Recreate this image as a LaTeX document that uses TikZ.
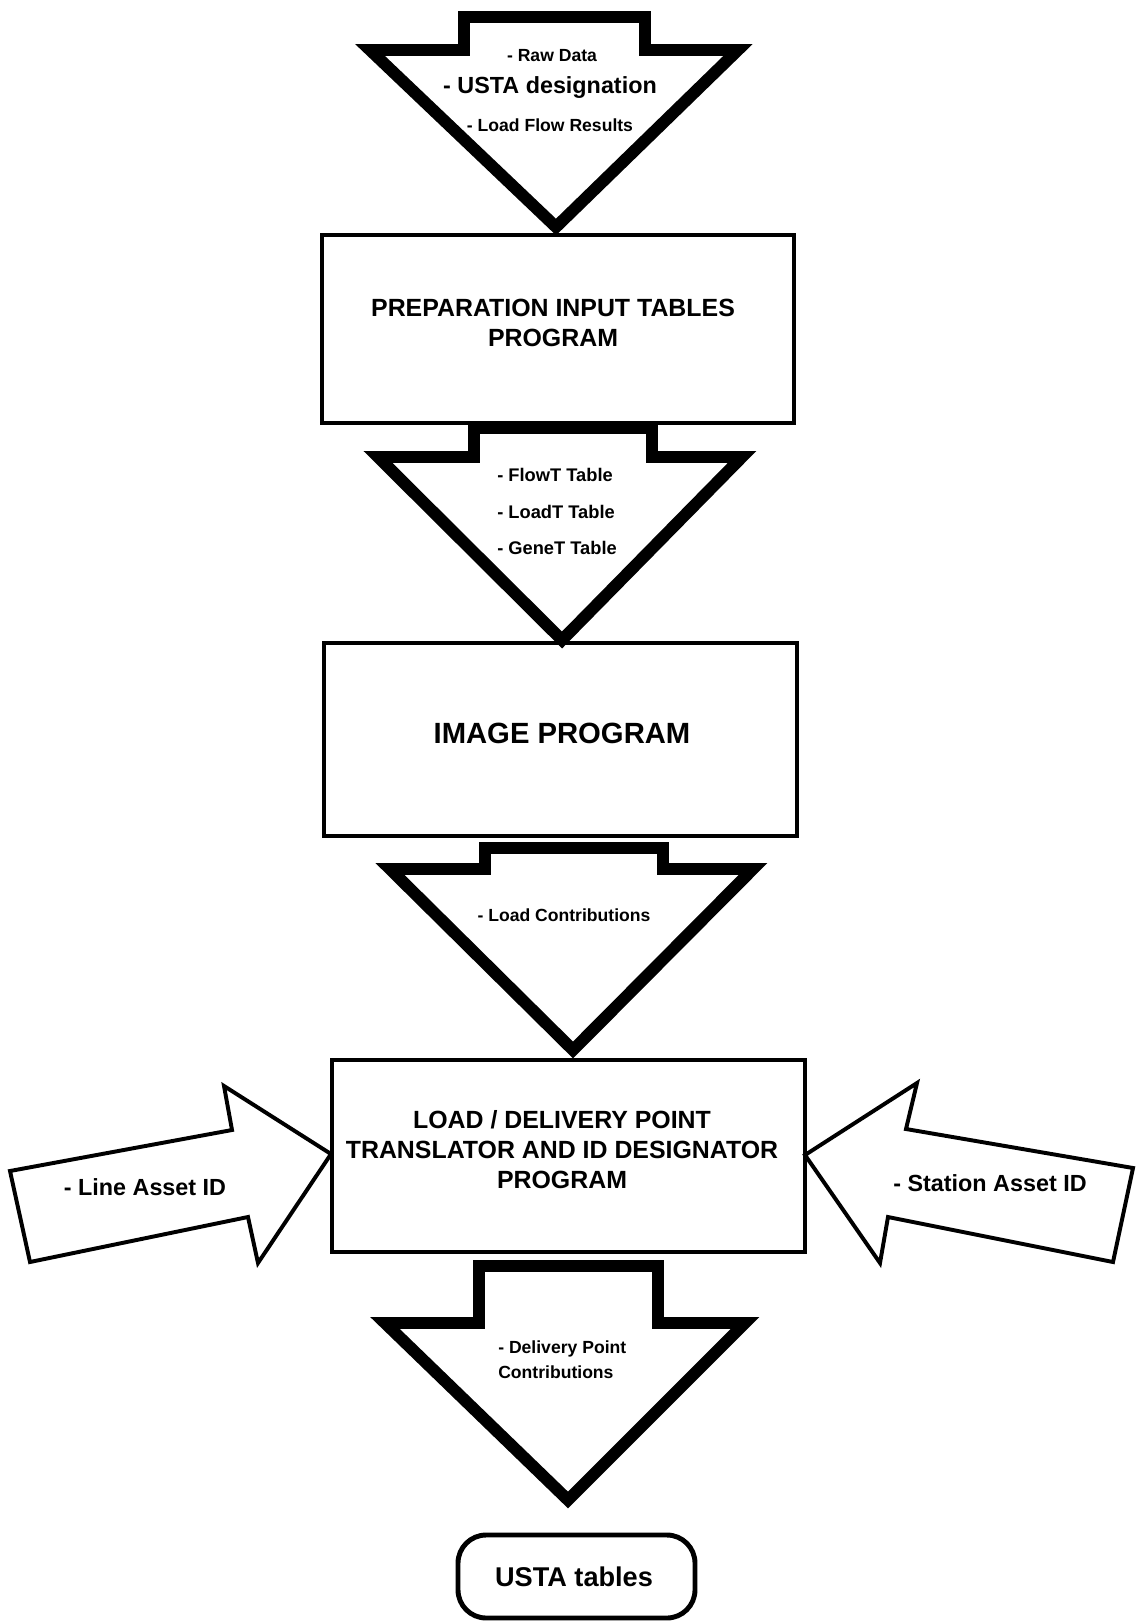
\documentclass[tikz,border=0pt]{standalone}
\usepackage{fontspec}
\setmainfont{Liberation Sans}
\usepackage{tikz}
\usetikzlibrary{positioning}

\begin{document}
\begin{tikzpicture}[x=0.025cm, y=-0.025cm,
	progbox/.style={line width=3.2pt},
	blockarrow/.style={line width=8.5pt, line join=miter},
	sidearrow/.style={line width=2.8pt, line join=miter},
	smalltxt/.style={font=\bfseries\fontsize{12.5}{15}\selectfont, inner sep=0pt},
	midtxt/.style={font=\bfseries\fontsize{16.6}{20}\selectfont, inner sep=0pt},
	boxtxt/.style={font=\bfseries\fontsize{17.7}{21.3}\selectfont, align=center, inner sep=0pt}]
	
	%//page is 1138 x 1622, y going down
	\useasboundingbox (0,0) rectangle (1138,1622);
	\clip (0,0) rectangle (1138,1622);
	
	%//program boxes
	\foreach \xa/\ya/\xb/\yb in {322/235/794/423, 324/643/797/836, 332/1060/805/1252}
	\draw[progbox] (\xa,\ya) rectangle (\xb,\yb);
	
	%//down arrows: stem left/right/top, shoulder, head left/right, tip
	\foreach \sl/\sr/\st/\sh/\hl/\hr/\tx/\ty in {464/645/17/50/370/738/556/227, 474/652/428/457/378/742/562/640, 485/663/848/869/390/753/573/1050, 479/658/1266/1323/385/745/568/1500}
	\draw[blockarrow] (\sl,\st) -- (\sl,\sh) -- (\hl,\sh) -- (\tx,\ty) -- (\hr,\sh) -- (\sr,\sh) -- (\sr,\st) -- cycle;
	
	%//side arrows into the translator box
	\draw[sidearrow] (10,1171) -- (232,1130) -- (224,1086) -- (331,1154) -- (258,1263) -- (248,1217) -- (30,1262) -- cycle;
	\draw[sidearrow] (805,1155) -- (917,1083) -- (906,1129) -- (1133,1168) -- (1113,1262) -- (888,1217) -- (880,1263) -- cycle;
	
	%//result box
	\draw[line width=3.5pt, rounded corners=20] (458,1535) rectangle (695,1618);
	
	%//texts in the first arrow
	\node[smalltxt] (rawdata) at (552,56) {- Raw Data};
	\node[midtxt] (ustades) at (550,88) {- USTA designation};
	\node[smalltxt] (loadflow) at (550,125) {- Load Flow Results};
	
	\node[boxtxt] (prep) at (553,323) {PREPARATION INPUT TABLES\\PROGRAM};
	
	\foreach \y/\val/\nm in {475/FlowT/flowt, 512/LoadT/loadt, 548/GeneT/genet}
	\node[smalltxt, font=\bfseries\fontsize{13}{15}\selectfont, anchor=west] (\nm) at (497,\y) {- \val{} Table};
	
	\node[boxtxt, font=\bfseries\fontsize{20.8}{25}\selectfont] (image) at (562,733) {IMAGE PROGRAM};
	
	\node[smalltxt] (loadcon) at (564,915) {- Load Contributions};
	
	\node[boxtxt, font=\bfseries\fontsize{17.7}{21.3}\selectfont] (translator) at (562,1150) {LOAD / DELIVERY POINT\\TRANSLATOR AND ID DESIGNATOR\\PROGRAM};
	
	\node[midtxt] (lineasset) at (145,1187) {- Line Asset ID};
	\node[midtxt] (stationasset) at (990,1183) {- Station Asset ID};
	
	\node[smalltxt, anchor=base west] (delivery) at (498,1353) {- Delivery Point};
	\node[smalltxt, anchor=base west] (contrib) at (498,1378) {Contributions};
	
	\node[boxtxt, font=\bfseries\fontsize{19.3}{23}\selectfont] (usta) at (574,1577) {USTA tables};
\end{tikzpicture}
\end{document}
